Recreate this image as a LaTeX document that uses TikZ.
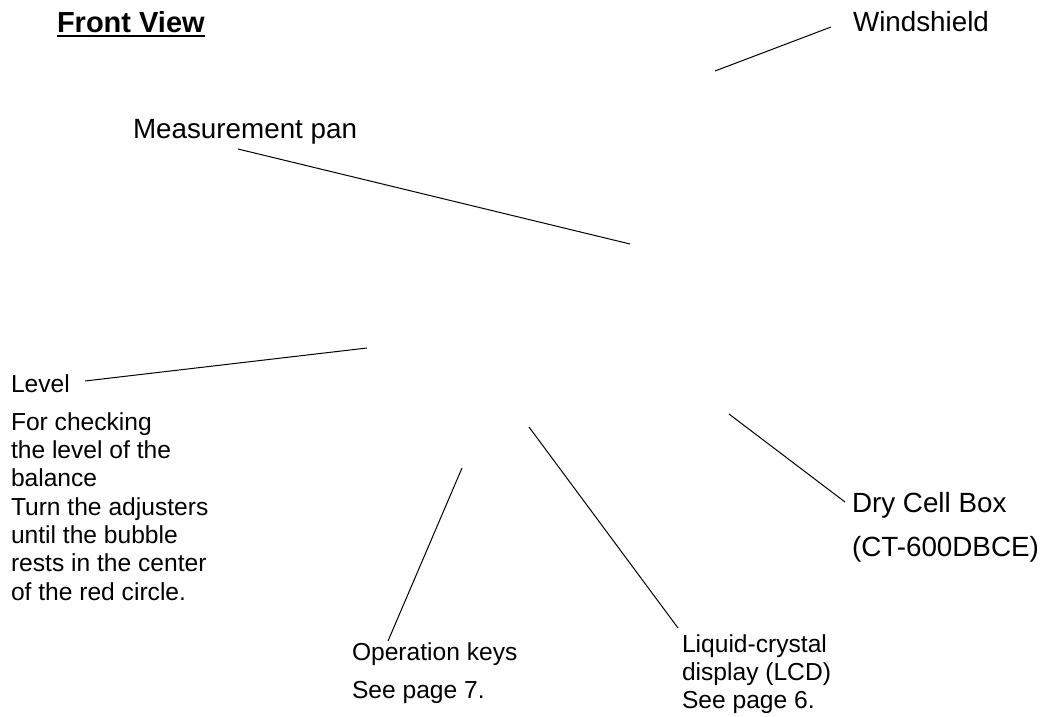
\documentclass[tikz,border=0pt]{standalone}
\usepackage{fontspec}
\setmainfont{Liberation Sans}
\tikzset{
  lbl/.style={anchor=base west, inner sep=0pt, outer sep=0pt},
  bigtxt/.style={lbl, font=\fontsize{27.8}{32}\selectfont},
  smalltxt/.style={lbl, font=\fontsize{24.6}{28}\selectfont},
  titletxt/.style={lbl, font=\fontsize{29}{33}\selectfont\bfseries},
  leader/.style={line width=1pt, black}
}
\begin{document}
\begin{tikzpicture}[x=1pt, y=-1pt]
\useasboundingbox (0,0) rectangle (1049,717);
% title
\node[titletxt] (fv) at (57,33) {Front View};
\draw[line width=2pt] ([yshift=-2.6pt]fv.base west) -- ([yshift=-2.6pt]fv.base east);
% labels
\node[bigtxt] (wind) at (853,31.7) {Windshield};
\node[bigtxt] (meas) at (133,138) {Measurement pan};
\node[smalltxt] (level) at (11,392) {Level};
\node[smalltxt] (p1) at (11,430) {For checking};
\node[smalltxt] (p2) at (11,458.3) {the level of the};
\node[smalltxt] (p3) at (11,486.7) {balance};
\node[smalltxt] (p4) at (11,515) {Turn the adjusters};
\node[smalltxt] (p5) at (11,543.3) {until the bubble};
\node[smalltxt] (p6) at (11,571.7) {rests in the center};
\node[smalltxt] (p7) at (11,600) {of the red circle.};
\node[smalltxt] (opk) at (352,660) {Operation keys};
\node[smalltxt] (opk2) at (352,698) {See page 7.};
\node[smalltxt] (lcd1) at (682,652) {Liquid-crystal};
\node[smalltxt] (lcd2) at (682,680) {display (LCD)};
\node[smalltxt] (lcd3) at (682,708) {See page 6.};
\node[bigtxt] (dry1) at (852,512.7) {Dry Cell Box};
\node[bigtxt] (dry2) at (852,556) {(CT-600DBCE)};
% leader end points
\coordinate (windA) at (715,71);
\coordinate (windB) at (831,27);
\coordinate (measA) at (238,149);
\coordinate (measB) at (630,244);
\coordinate (levA) at (85,381);
\coordinate (levB) at (367,348);
\coordinate (opA) at (388,641);
\coordinate (opB) at (462,468);
\coordinate (lcdA) at (678,628);
\coordinate (lcdB) at (529,427);
\coordinate (dryA) at (845,502);
\coordinate (dryB) at (729,414);
% leaders
\draw[leader] (windB) -- (windA);
\draw[leader] (measA) -- (measB);
\draw[leader] (levA) -- (levB);
\draw[leader] (opA) -- (opB);
\draw[leader] (lcdA) -- (lcdB);
\draw[leader] (dryA) -- (dryB);
\end{tikzpicture}
\end{document}
